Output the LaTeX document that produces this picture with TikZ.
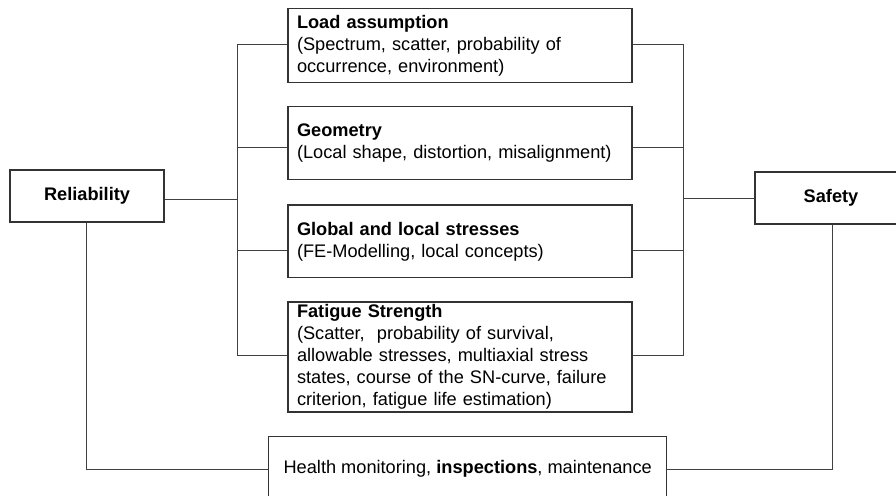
\documentclass[tikz,border=0pt]{standalone}
\usepackage{fontspec}
\setmainfont{Liberation Sans}
\begin{document}
\begin{tikzpicture}[x=1pt,y=-1pt,
  every node/.style={font=\fontsize{18.2}{22}\selectfont, text=black},
  box/.style={draw=black!80, line width=1.1pt, rectangle, inner sep=0pt},
  itembox/.style={box, minimum width=344pt, text width=326pt, align=left, inner xsep=9pt},
  conn/.style={draw=black!75, line width=1pt}
]
\clip (0,0) rectangle (896,495);
\fill[white] (0,0) rectangle (896,495);

\node[box, minimum width=154pt, minimum height=52pt] (rel) at (87,196) {\textbf{Reliability}};
\node[box, minimum width=152pt, minimum height=52pt] (saf) at (831,198) {\textbf{Safety}};

\node[itembox, minimum height=74.4pt] (load) at (460,45.5)
  {\textbf{Load assumption}\\(Spectrum, scatter, probability of\\occurrence, environment)};
\node[itembox, minimum height=73.4pt] (geo) at (460,143)
  {\textbf{Geometry}\\(Local shape, distortion, misalignment)};
\node[itembox, minimum height=72.7pt] (glob) at (460,241.3)
  {\textbf{Global and local stresses}\\(FE-Modelling, local concepts)};
\node[itembox, minimum height=110pt] (fat) at (460,357)
  {\textbf{Fatigue Strength}\\(Scatter,\ \ probability of survival,\\allowable stresses, multiaxial stress\\states, course of the SN-curve, failure\\criterion, fatigue life estimation)};
\node[box, minimum width=398pt, minimum height=65pt] (hm) at (467.7,469)
  {Health monitoring, \textbf{inspections}, maintenance};

% bus coordinates
\coordinate (LB) at (237,0);
\coordinate (RB) at (683,0);
\coordinate (yL) at (0,45);
\coordinate (yG) at (0,147.3);
\coordinate (yS) at (0,250.3);
\coordinate (yF) at (0,355);
\coordinate (yR) at (0,199.3);
\coordinate (yH) at (0,469);
\coordinate (xR) at (86,0);
\coordinate (xS) at (832.5,0);

% left bus
\draw[conn] (load.west |- yL) -- (LB |- yL) -- (LB |- yF) -- (fat.west |- yF);
\draw[conn] (geo.west |- yG) -- (LB |- yG);
\draw[conn] (glob.west |- yS) -- (LB |- yS);
\draw[conn] (rel.east |- yR) -- (LB |- yR);

% right bus
\draw[conn] (load.east |- yL) -- (RB |- yL) -- (RB |- yF) -- (fat.east |- yF);
\draw[conn] (geo.east |- yG) -- (RB |- yG);
\draw[conn] (glob.east |- yS) -- (RB |- yS);
\draw[conn] (saf.west) -- (saf.west -| RB);

% bottom links
\draw[conn] (rel.south -| xR) -- (xR |- yH) -- (hm.west |- yH);
\draw[conn] (saf.south -| xS) -- (xS |- yH) -- (hm.east |- yH);
\end{tikzpicture}
\end{document}
